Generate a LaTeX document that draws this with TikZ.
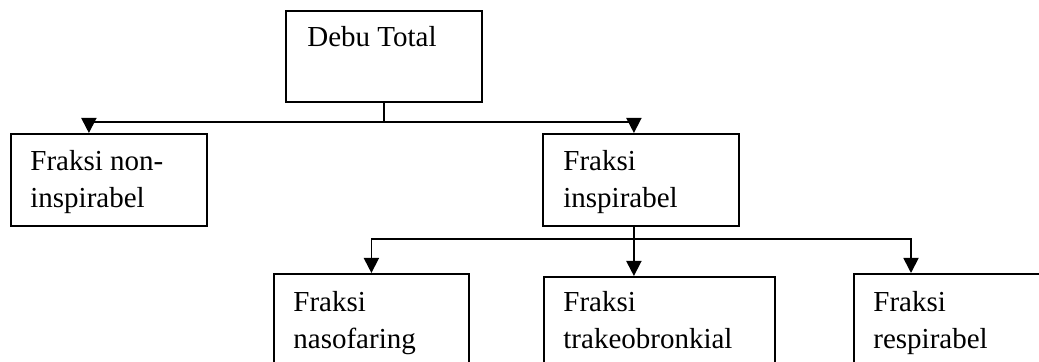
\documentclass[tikz,border=0pt]{standalone}
\usepackage{fontspec}
\setmainfont{Liberation Serif}
\usetikzlibrary{arrows.meta}
\tikzset{
  kotak/.style={draw,line width=0.9pt,inner sep=0pt,anchor=north west,minimum height=46pt},
  isi/.style={inner sep=0pt,anchor=base west,align=left,font=\fontsize{14.5}{18.5}\selectfont},
  garis/.style={line width=0.9pt},
  panah/.style={line width=0.9pt,-{Triangle[width=7.5pt,length=7.5pt]}}
}
\begin{document}
\begin{tikzpicture}[x=0.5pt,y=-0.5pt]
\useasboundingbox (0,0) rectangle (1039,362);
\clip (0,0) rectangle (1039,362);
% kotak
\node[kotak,minimum width=98pt,minimum height=45.5pt] (debu) at (285,10) {};
\node[kotak,minimum width=98pt] (noninsp) at (10,133) {};
\node[kotak,minimum width=98pt] (insp) at (542,133) {};
\node[kotak,minimum width=97.5pt] (naso) at (273,273) {};
\node[kotak,minimum width=115.5pt] (trakeo) at (543,276) {};
\node[kotak,minimum width=98pt] (respi) at (853,273) {};
% teks (base = baris terakhir)
\node[isi] (tdebu) at ([shift={(22,37)}]debu.north west) {Debu Total};
\node[isi] (tnoninsp) at ([shift={(20,75)}]noninsp.north west) {Fraksi non-\\inspirabel};
\node[isi] (tinsp) at ([shift={(21,75)}]insp.north west) {Fraksi\\inspirabel};
\node[isi] (tnaso) at ([shift={(20,76)}]naso.north west) {Fraksi\\nasofaring};
\node[isi] (ttrakeo) at ([shift={(20,73)}]trakeo.north west) {Fraksi\\trakeobronkial};
\node[isi] (trespi) at ([shift={(20,76)}]respi.north west) {Fraksi\\respirabel};
% cabang atas
\coordinate (cab1) at (debu.south |- 0,122);
\draw[garis] (debu.south) -- (cab1);
\draw[panah] (cab1) -| ([xshift=-10pt]noninsp.north);
\draw[panah] (cab1) -| ([xshift=-3.5pt]insp.north);
% cabang bawah
\coordinate (insb) at ([xshift=-3.5pt]insp.south);
\coordinate (cab2) at (insb |- 0,239);
\draw[garis] (insb) -- (cab2);
\draw[panah] (cab2) -| (naso.north);
\draw[panah] (cab2) -- (cab2 |- trakeo.north);
\draw[panah] (cab2) -| ([xshift=29pt]respi.north west);
\end{tikzpicture}
\end{document}
